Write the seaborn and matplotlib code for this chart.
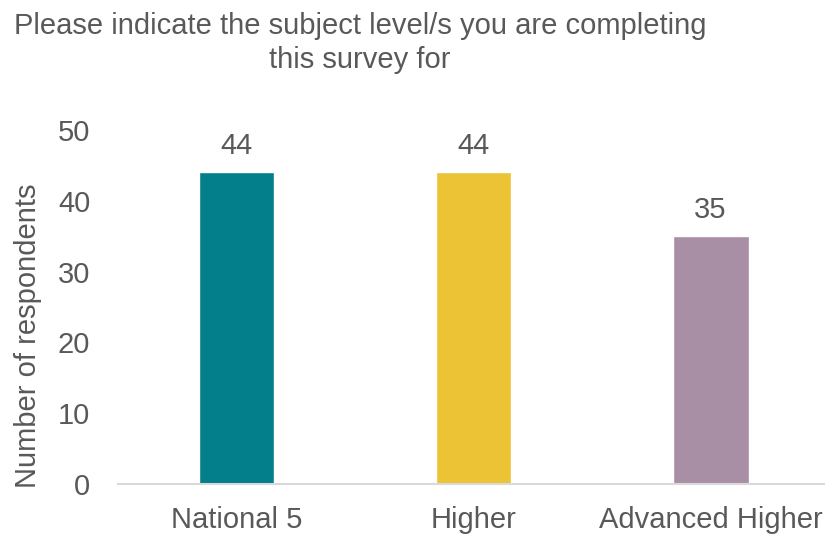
import matplotlib
matplotlib.use("Agg")
import matplotlib.pyplot as plt
import seaborn as sns
import pandas as pd

categories = ["National 5", "Higher", "Advanced Higher"]
respondents = [44, 44, 35]
bar_colors = ["#037E8B", "#EBC335", "#A88FA5"]
y_ticks = [0, 10, 20, 30, 40, 50]

sns.set_theme(style="white")
plt.rcParams["font.family"] = ["Liberation Sans", "DejaVu Sans"]
text_color = "#595959"
fs = 21

df = pd.DataFrame({"level": categories, "count": respondents})

fig = plt.figure(figsize=(8.25, 5.34), dpi=100)
ax = fig.add_axes([0.143, 0.0936, 0.862, 0.663])

sns.barplot(data=df, x="level", y="count", hue="level", palette=bar_colors,
            width=0.32, legend=False, ax=ax, saturation=1)

for container in ax.containers:
    ax.bar_label(container, fmt="%d", padding=9, fontsize=fs, color=text_color)

ax.set_ylim(0, 50)
ax.set_xlim(-0.5, 2.5)
ax.set_yticks(y_ticks)
ax.set_xlabel("")
ax.set_ylabel("")
ax.tick_params(axis="y", length=0, pad=20, labelsize=fs, labelcolor=text_color)
ax.tick_params(axis="x", length=0, pad=16, labelsize=fs, labelcolor=text_color)

for side in ["left", "right", "top"]:
    ax.spines[side].set_visible(False)
ax.spines["bottom"].set_color("#D9D9D9")
ax.spines["bottom"].set_linewidth(1.5)
ax.grid(False)

fig.text(28 / 825, 1 - 336 / 534, "Number of respondents", rotation=90,
         ha="center", va="center", fontsize=fs, color=text_color)
fig.text(360 / 825, 1 - 43 / 534,
         "Please indicate the subject level/s you are completing\nthis survey for",
         ha="center", va="center", multialignment="center",
         fontsize=fs, color=text_color, linespacing=1.25)

fig.savefig("out.png", dpi=100)
